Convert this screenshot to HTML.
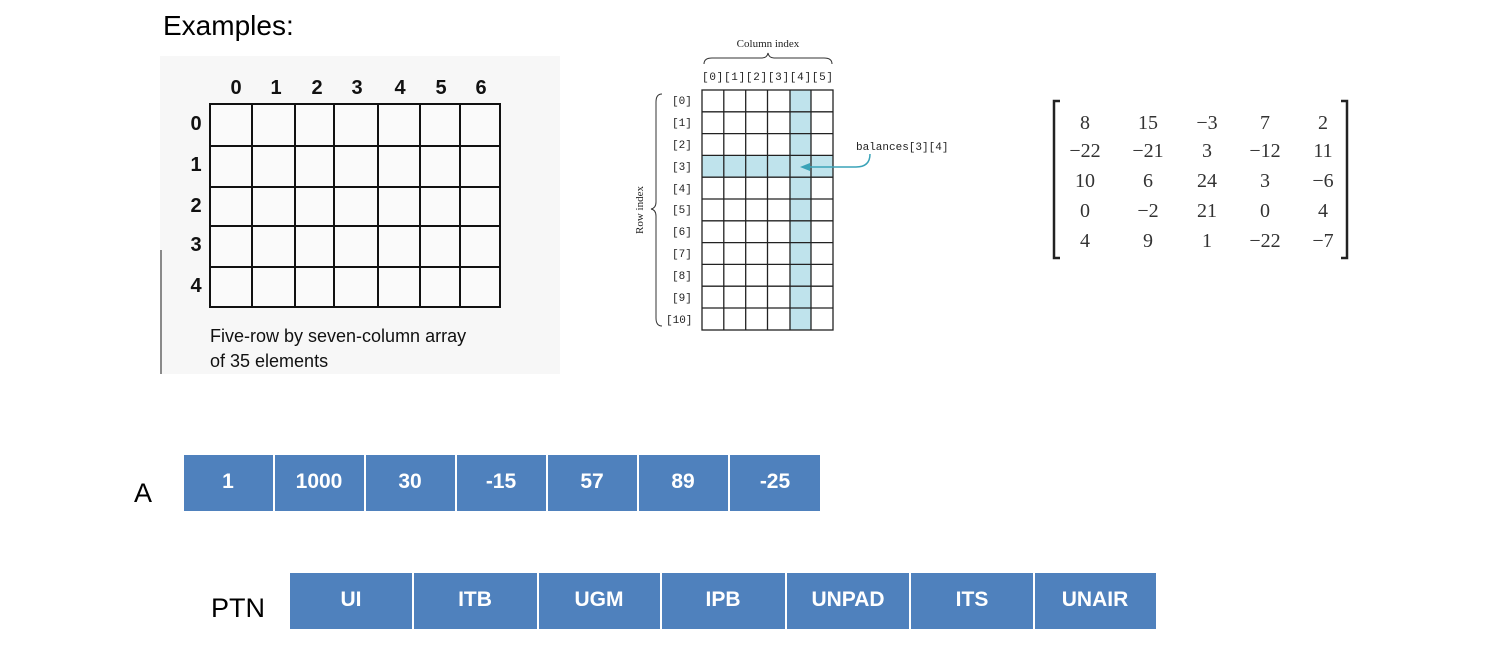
<!DOCTYPE html>
<html><head><meta charset="utf-8"><style>
body{margin:0;background:#fff;}
svg{display:block}
</style></head><body>
<svg width="1500" height="668" viewBox="0 0 1500 668" xmlns="http://www.w3.org/2000/svg">
<rect width="1500" height="668" fill="#fff"/>
<text x="163" y="35" font-family="Liberation Sans, sans-serif" font-size="28" fill="#000">Examples:</text>

<!-- Grid 1 -->
<rect x="160" y="56" width="400" height="318" fill="#f7f7f7"/>
<line x1="161" y1="250" x2="161" y2="374" stroke="#666" stroke-width="1.5"/>
<rect x="210" y="104" width="290" height="203" fill="#fafafa" stroke="#111" stroke-width="2"/>
<g stroke="#111" stroke-width="2">
<line x1="252" y1="104" x2="252" y2="307"/><line x1="295" y1="104" x2="295" y2="307"/>
<line x1="334" y1="104" x2="334" y2="307"/><line x1="378" y1="104" x2="378" y2="307"/>
<line x1="420" y1="104" x2="420" y2="307"/><line x1="460" y1="104" x2="460" y2="307"/>
<line x1="210" y1="146" x2="500" y2="146"/><line x1="210" y1="187" x2="500" y2="187"/>
<line x1="210" y1="226" x2="500" y2="226"/><line x1="210" y1="267" x2="500" y2="267"/>
</g>
<g font-family="Liberation Sans, sans-serif" font-size="20" font-weight="bold" fill="#111" text-anchor="middle">
<text x="236" y="94">0</text><text x="276" y="94">1</text><text x="317" y="94">2</text><text x="357" y="94">3</text><text x="400" y="94">4</text><text x="441" y="94">5</text><text x="481" y="94">6</text>
<text x="196" y="130">0</text><text x="196" y="171">1</text><text x="196" y="212">2</text><text x="196" y="251">3</text><text x="196" y="292">4</text>
</g>
<g font-family="Liberation Sans, sans-serif" font-size="18" fill="#111">
<text x="210" y="342">Five-row by seven-column array</text>
<text x="210" y="367">of 35 elements</text>
</g>

<!-- Grid 2 -->
<rect x="702" y="155" width="131" height="22" fill="#bfe3ec"/>
<rect x="790" y="90" width="21" height="240" fill="#bfe3ec"/>
<g stroke="#222" stroke-width="1.3" fill="none">
<rect x="702" y="90" width="131" height="240"/>
<line x1="723.8" y1="90" x2="723.8" y2="330"/><line x1="745.7" y1="90" x2="745.7" y2="330"/>
<line x1="767.5" y1="90" x2="767.5" y2="330"/><line x1="790" y1="90" x2="790" y2="330"/>
<line x1="811" y1="90" x2="811" y2="330"/>
<line x1="702" y1="111.8" x2="833" y2="111.8"/><line x1="702" y1="133.6" x2="833" y2="133.6"/>
<line x1="702" y1="155.4" x2="833" y2="155.4"/><line x1="702" y1="177.2" x2="833" y2="177.2"/>
<line x1="702" y1="199" x2="833" y2="199"/><line x1="702" y1="220.8" x2="833" y2="220.8"/>
<line x1="702" y1="242.6" x2="833" y2="242.6"/><line x1="702" y1="264.4" x2="833" y2="264.4"/>
<line x1="702" y1="286.2" x2="833" y2="286.2"/><line x1="702" y1="308" x2="833" y2="308"/>
</g>
<g font-family="Liberation Mono, monospace" font-size="11" fill="#222">
<text x="702" y="80" textLength="131">[0][1][2][3][4][5]</text>
<text x="672" y="104">[0]</text><text x="672" y="126">[1]</text><text x="672" y="148">[2]</text><text x="672" y="170">[3]</text>
<text x="672" y="192">[4]</text><text x="672" y="213">[5]</text><text x="672" y="235">[6]</text><text x="672" y="257">[7]</text>
<text x="672" y="279">[8]</text><text x="672" y="301">[9]</text><text x="666" y="323">[10]</text>
<text x="856" y="150">balances[3][4]</text>
</g>
<text x="768" y="47" font-family="Liberation Serif, serif" font-size="11" fill="#222" text-anchor="middle">Column index</text>
<path d="M704 64 Q704 58 712 58 L762 58 Q767 58 768 53 Q769 58 774 58 L824 58 Q832 58 832 64" fill="none" stroke="#333" stroke-width="1"/>
<path d="M662 94 Q656 94 656 102 L656 202 Q656 208 651 209 Q656 210 656 216 L656 318 Q656 326 662 326" fill="none" stroke="#333" stroke-width="1"/>
<text transform="translate(643,210) rotate(-90)" font-family="Liberation Serif, serif" font-size="11" fill="#222" text-anchor="middle">Row index</text>
<path d="M870 154 Q870 167 856 167 L806 167" fill="none" stroke="#3aa3b8" stroke-width="1.5"/>
<path d="M800 167 L810 163 L810 171 Z" fill="#3aa3b8"/>

<!-- Matrix -->
<path d="M1060 101 L1054 101 L1054 258 L1060 258" fill="none" stroke="#222" stroke-width="2.5"/>
<path d="M1341 101 L1347 101 L1347 258 L1341 258" fill="none" stroke="#222" stroke-width="2.5"/>
<g font-family="Liberation Serif, serif" font-size="20" fill="#333" text-anchor="middle">
<text x="1085" y="129">8</text><text x="1148" y="129">15</text><text x="1207" y="129">−3</text><text x="1265" y="129">7</text><text x="1323" y="129">2</text>
<text x="1085" y="157">−22</text><text x="1148" y="157">−21</text><text x="1207" y="157">3</text><text x="1265" y="157">−12</text><text x="1323" y="157">11</text>
<text x="1085" y="187">10</text><text x="1148" y="187">6</text><text x="1207" y="187">24</text><text x="1265" y="187">3</text><text x="1323" y="187">−6</text>
<text x="1085" y="217">0</text><text x="1148" y="217">−2</text><text x="1207" y="217">21</text><text x="1265" y="217">0</text><text x="1323" y="217">4</text>
<text x="1085" y="247">4</text><text x="1148" y="247">9</text><text x="1207" y="247">1</text><text x="1265" y="247">−22</text><text x="1323" y="247">−7</text>
</g>

<!-- Array A -->
<g font-family="Liberation Sans, sans-serif" font-size="27" fill="#000">
<text x="134" y="502">A</text>
<text x="211" y="617">PTN</text>
</g>
<g fill="#4f81bd">
<rect x="184" y="455" width="89" height="56"/><rect x="275" y="455" width="89" height="56"/>
<rect x="366" y="455" width="89" height="56"/><rect x="457" y="455" width="89" height="56"/>
<rect x="548" y="455" width="89" height="56"/><rect x="639" y="455" width="89" height="56"/>
<rect x="730" y="455" width="90" height="56"/>
<rect x="290" y="573" width="122" height="56"/><rect x="414" y="573" width="123" height="56"/>
<rect x="539" y="573" width="121" height="56"/><rect x="662" y="573" width="123" height="56"/>
<rect x="787" y="573" width="122" height="56"/><rect x="911" y="573" width="122" height="56"/>
<rect x="1035" y="573" width="121" height="56"/>
</g>
<g font-family="Liberation Sans, sans-serif" font-size="21" font-weight="bold" fill="#fff" text-anchor="middle">
<text x="228" y="488">1</text><text x="319" y="488">1000</text><text x="410" y="488">30</text><text x="501" y="488">-15</text>
<text x="592" y="488">57</text><text x="683" y="488">89</text><text x="775" y="488">-25</text>
<text x="351" y="606">UI</text><text x="475" y="606">ITB</text><text x="599" y="606">UGM</text><text x="723" y="606">IPB</text>
<text x="848" y="606">UNPAD</text><text x="972" y="606">ITS</text><text x="1095" y="606">UNAIR</text>
</g>
</svg>
</body></html>
